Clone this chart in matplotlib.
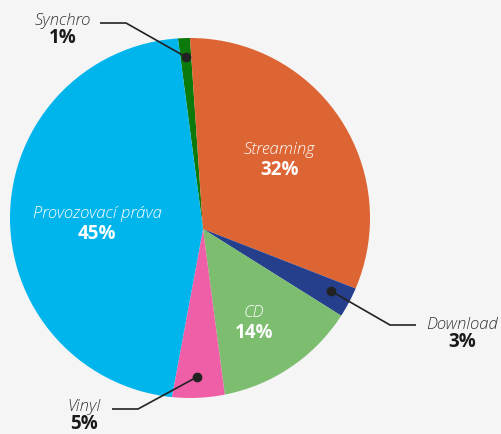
import numpy as np
import matplotlib
matplotlib.use('Agg')
import matplotlib.pyplot as plt
from matplotlib.patches import Circle

# data
labels = ['Synchro', 'Streaming', 'Download', 'CD', 'Vinyl', 'Provozovací práva']
shares = [1, 32, 3, 14, 5, 45]
colors = ['#0b7a0b', '#dd6433', '#253f8c', '#7cbd6f', '#ef5fa7', '#00b4ec']

plt.rcParams['font.family'] = ['Open Sans', 'DejaVu Sans']

fig = plt.figure(figsize=(5.02, 4.35), dpi=100)
fig.patch.set_facecolor('#f5f5f5')
ax = fig.add_axes([0, 0, 1, 1])
ax.set_facecolor('#f5f5f5')

# pixel-like coordinates (y measured upward)
H = 435
apex = (203, H - 230)
circ_center = (190, H - 219)
circ_r = 180

wedges, _ = ax.pie(shares, colors=colors, startangle=97.5, counterclock=False,
                   center=apex, radius=225, wedgeprops=dict(linewidth=0))
clip = Circle(circ_center, circ_r, transform=ax.transData)
for w in wedges:
    w.set_clip_on(True)
    w.set_clip_path(clip)

ax.set_xlim(0, 502)
ax.set_ylim(0, H)
ax.set_aspect('equal')
ax.axis('off')

name_kw = dict(fontsize=12, style='italic', fontweight='light', ha='center', va='center')
pct_kw = dict(fontsize=13.5, fontweight='bold', ha='center', va='center')

# labels inside the slices
inside = {'Streaming': (280, 150), 'CD': (254, 313), 'Provozovací práva': (97, 214)}
for name, (x, y) in inside.items():
    i = labels.index(name)
    ax.text(x, H - y, name, color='white', **name_kw)
    ax.text(x, H - y - 20, f'{shares[i]}%', color='white', **pct_kw)

# labels outside with leader lines
outside = {
    'Synchro': dict(text=(63, 21), line=[(100, 24), (126, 24), (186, 58)]),
    'Download': dict(text=(462, 325), line=[(416, 326), (390, 326), (331, 292)]),
    'Vinyl': dict(text=(84, 407), line=[(112, 410), (138, 410), (197, 378)]),
}
for name, d in outside.items():
    i = labels.index(name)
    x, y = d['text']
    ax.text(x, H - y, name, color='#333333', **name_kw)
    ax.text(x, H - y - 17, f'{shares[i]}%', color='#1a1a1a', **pct_kw)
    xs = [p[0] for p in d['line']]
    ys = [H - p[1] for p in d['line']]
    ax.plot(xs, ys, color='#222222', lw=1.2, solid_capstyle='butt', zorder=5)
    ax.plot(xs[-1], ys[-1], 'o', color='#222222', ms=6, zorder=6)

fig.savefig('out.png', dpi=100, facecolor=fig.get_facecolor())
